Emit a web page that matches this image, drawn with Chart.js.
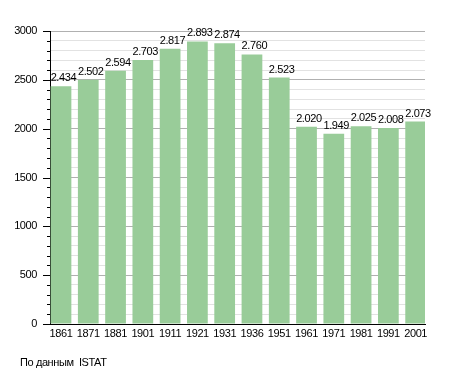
<!DOCTYPE html>
<html>
<head>
<meta charset="utf-8">
<script src="https://cdn.jsdelivr.net/npm/chart.js@4/dist/chart.umd.min.js"></script>
<style>
  html, body { margin: 0; padding: 0; background: #fff; }
  #wrap { position: relative; width: 455px; height: 373px; }
  #note { position: absolute; left: 20px; top: 356px; font: 11px "Liberation Sans", Arial, sans-serif; letter-spacing: -0.4px; color: #000; white-space: pre; }
</style>
</head>
<body>
<div id="wrap">
  <canvas id="c" width="455" height="373"></canvas>
  <div id="note">По данным  ISTAT</div>
</div>
<script>
const categories = ["1861","1871","1881","1901","1911","1921","1931","1936","1951","1961","1971","1981","1991","2001"];
const population = [2434, 2502, 2594, 2703, 2817, 2893, 2874, 2760, 2523, 2020, 1949, 2025, 2008, 2073];
const yTickValues = [0, 500, 1000, 1500, 2000, 2500, 3000];

const FONT = '"Liberation Sans", Arial, sans-serif';

function fmt(v) {
  const s = String(v);
  return s.length > 3 ? s.slice(0, s.length - 3) + '.' + s.slice(-3) : s;
}

const spacingPlugin = {
  id: 'spacing',
  beforeDraw(chart) { chart.ctx.letterSpacing = '-0.4px'; }
};

const labelPlugin = {
  id: 'valueLabels',
  afterDatasetsDraw(chart) {
    const ctx = chart.ctx;
    const meta = chart.getDatasetMeta(0);
    ctx.save();
    ctx.letterSpacing = '-0.4px';
    ctx.font = '11px ' + FONT;
    ctx.fillStyle = '#000';
    ctx.textAlign = 'left';
    ctx.textBaseline = 'alphabetic';
    meta.data.forEach((bar, i) => {
      ctx.fillText(fmt(population[i]), bar.x - bar.width / 2, bar.y - 5);
    });
    ctx.restore();
  }
};

const tickPlugin = {
  id: 'yTicks',
  afterDraw(chart) {
    const y = chart.scales.y;
    const ctx = chart.ctx;
    const x0 = chart.chartArea.left;
    ctx.save();
    ctx.strokeStyle = '#000';
    ctx.lineWidth = 1;
    for (let v = 0; v <= 3000; v += 100) {
      const len = yTickValues.includes(v) ? 7 : 3;
      const py = Math.round(y.getPixelForValue(v)) + 0.5;
      ctx.beginPath();
      ctx.moveTo(x0 - len, py);
      ctx.lineTo(x0, py);
      ctx.stroke();
    }
    ctx.restore();
  }
};

new Chart(document.getElementById('c'), {
  type: 'bar',
  data: {
    datasets: [{
      data: population.map((v, i) => ({ x: i, y: v })),
      backgroundColor: '#99cc99',
      borderWidth: 0,
      barPercentage: 0.76,
      categoryPercentage: 1.0
    }]
  },
  options: {
    responsive: false,
    animation: false,
    layout: { padding: { top: 31, right: 30, left: 0, bottom: 0 } },
    plugins: { legend: { display: false }, tooltip: { enabled: false } },
    scales: {
      x: {
        type: 'linear',
        offset: false,
        min: -0.403,
        max: 13.343,
        afterBuildTicks(scale) { scale.ticks = categories.map((c, i) => ({ value: i })); },
        afterFit(scale) { scale.height = 49; },
        grid: { drawOnChartArea: false, drawTicks: false, offset: false },
        border: { display: true, color: '#000', width: 1 },
        ticks: {
          autoSkip: false,
          maxRotation: 0,
          padding: 3,
          color: '#000',
          font: { family: FONT, size: 11 },
          callback: (v) => categories[v] ?? ''
        }
      },
      y: {
        min: 0,
        max: 3000,
        afterBuildTicks(scale) {
          const t = [];
          for (let v = 0; v <= 3000; v += 100) t.push({ value: v });
          scale.ticks = t;
        },
        afterFit(scale) { scale.width = 50; },
        grid: {
          drawTicks: false,
          color: (c) => (c.tick && c.tick.value % 500 === 0) ? '#b0b0b0' : '#e2e2e2',
          lineWidth: 1
        },
        border: { display: true, color: '#000', width: 1 },
        ticks: {
          autoSkip: false,
          padding: 13,
          color: '#000',
          font: { family: FONT, size: 11 },
          callback: (v) => yTickValues.includes(v) ? String(v) : ''
        }
      }
    }
  },
  plugins: [spacingPlugin, labelPlugin, tickPlugin]
});
</script>
</body>
</html>
